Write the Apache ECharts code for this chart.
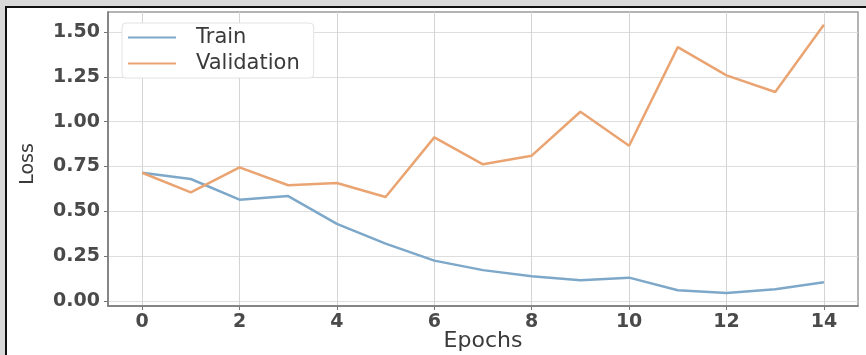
<!DOCTYPE html>
<html>
<head>
<meta charset="utf-8">
<script src="https://cdn.jsdelivr.net/npm/echarts@6/dist/echarts.min.js"></script>
<style>
html,body{margin:0;padding:0;background:#fff;}
#c{width:866px;height:355px;}
</style>
</head>
<body>
<div id="c"></div>
<script>
const epochs = [0,1,2,3,4,5,6,7,8,9,10,11,12,13,14];
const trainLoss = [0.715,0.68,0.565,0.585,0.43,0.32,0.225,0.172,0.138,0.115,0.13,0.06,0.045,0.066,0.105];
const valLoss = [0.715,0.605,0.745,0.645,0.658,0.58,0.912,0.762,0.81,1.055,0.865,1.415,1.258,1.165,1.54];
const xTicks = [0,2,4,6,8,10,12,14];
const yTicks = [0,0.25,0.5,0.75,1.0,1.25,1.5];
const seriesNames = ['Train','Validation'];
const xTitle = 'Epochs';
const yTitle = 'Loss';

const font = 'DejaVu Sans';
const chart = echarts.init(document.getElementById('c'), null, {renderer:'canvas'});
chart.setOption({
  animation:false,
  backgroundColor:'#ffffff',
  graphic:[
    {type:'rect',shape:{x:0,y:0,width:866,height:6},style:{fill:'#d9d9d9'},silent:true,z:100},
    {type:'rect',shape:{x:0,y:0,width:5,height:355},style:{fill:'#d9d9d9'},silent:true,z:100},
    {type:'rect',shape:{x:5,y:6,width:861,height:2},style:{fill:'#111'},silent:true,z:100},
    {type:'rect',shape:{x:5,y:6,width:2,height:349},style:{fill:'#111'},silent:true,z:100}
  ],
  grid:{left:108,right:8,top:12,bottom:49,containLabel:false,outerBoundsMode:'none',
        show:true,borderColor:'#9a9a9a',borderWidth:1.5,backgroundColor:'transparent'},
  legend:{
    data:seriesNames,
    orient:'vertical',
    left:122, top:23,
    itemWidth:48, itemHeight:2,
    itemGap:5,
    icon:'rect',
    padding:[4,14,4,6],
    backgroundColor:'#ffffff',
    borderColor:'#e2e2e2',
    borderWidth:1,
    borderRadius:4,
    textStyle:{fontFamily:font,fontSize:21,color:'#3a3a3a',lineHeight:21,padding:[0,0,0,15]}
  },
  xAxis:{
    type:'value', min:-0.7, max:14.7,
    name:xTitle, nameLocation:'middle', nameGap:24, nameMoveOverlap:false,
    nameTextStyle:{fontFamily:font,fontSize:22,color:'#3a3a3a'},
    axisLine:{show:true,onZero:false,lineStyle:{color:'#777',width:1.5}},
    axisTick:{show:true,length:4,lineStyle:{color:'#777'},customValues:xTicks},
    axisLabel:{fontFamily:font,fontSize:19,fontWeight:'bold',color:'#4a4a4a',margin:7,customValues:xTicks},
    splitLine:{show:true,lineStyle:{color:'#d4d4d4',width:1}}
  },
  yAxis:{
    type:'value', min:-0.028, max:1.611,
    name:yTitle, nameLocation:'middle', nameGap:70, nameRotate:90, nameMoveOverlap:false,
    nameTextStyle:{fontFamily:font,fontSize:19,color:'#3a3a3a',padding:[0,10,0,0]},
    axisLine:{show:true,onZero:false,lineStyle:{color:'#777',width:1.5}},
    axisTick:{show:true,length:4,lineStyle:{color:'#777'},customValues:yTicks},
    axisLabel:{fontFamily:font,fontSize:19,fontWeight:'bold',color:'#4a4a4a',margin:8,customValues:yTicks,
      formatter:v=>v.toFixed(2)},
    splitLine:{show:true,lineStyle:{color:'#dedede',width:1}}
  },
  series:[
    {name:seriesNames[0],type:'line',data:epochs.map((e,i)=>[e,trainLoss[i]]),
     showSymbol:false,symbol:'none',lineStyle:{color:'#7ea8c9',width:2.5},itemStyle:{color:'#7ea8c9'}},
    {name:seriesNames[1],type:'line',data:epochs.map((e,i)=>[e,valLoss[i]]),
     showSymbol:false,symbol:'none',lineStyle:{color:'#eaa472',width:2.5},itemStyle:{color:'#eaa472'}}
  ]
});
</script>
</body>
</html>
